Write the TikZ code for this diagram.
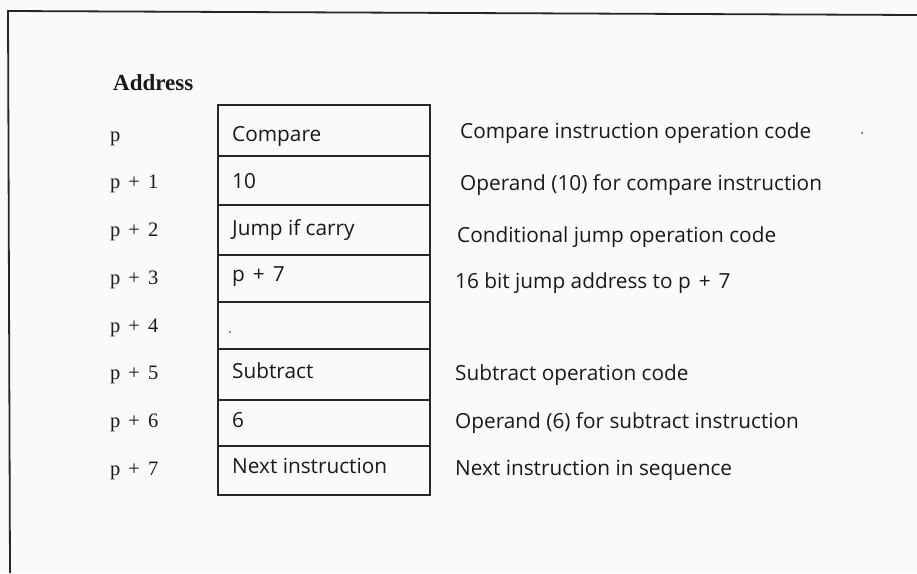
\documentclass[tikz,border=0pt]{standalone}
\usepackage{fontspec}
\setmainfont{Liberation Serif}
\newfontfamily\optfont{Open Sans}
\newcommand{\gp}{\hspace{8pt}}
\begin{document}
\begin{tikzpicture}[x=1pt,y=-1pt,
  cell/.style={draw=black!85, line width=1.3pt, anchor=north west, minimum width=212pt, inner sep=0pt, outer sep=0pt},
  addr/.style={anchor=base west, inner sep=0pt, text=black!90, font=\fontsize{20.5}{24}\selectfont},
  cont/.style={anchor=base west, inner sep=0pt, text=black!90, font=\optfont\fontsize{20.8}{24}\selectfont},
  head/.style={anchor=base west, inner sep=0pt, text=black!90, font=\bfseries\fontsize{23}{27}\selectfont},
  frame/.style={draw=black!85, line width=1.8pt}]
\fill[white!98!black] (0,0) rectangle (917,573);
\useasboundingbox (0,0) rectangle (917,573);
% frame
\coordinate (tl) at (8,11);
\coordinate (tr) at (917,15);
\coordinate (bl) at (10,573);
\draw[frame] (tr) -- (tl) -- (bl);
% heading
\node[head] (hd) at (113,90.5) {Address};
% cells
\foreach \t/\b [count=\i] in {105/156,156/205,205/255,255/302,302/349,349/400,400/446,446/495}{
  \pgfmathsetmacro{\h}{\b-\t}
  \node[cell, minimum height=\h pt] (c\i) at (218,\t) {};
}
% addresses
\node[addr] (a1) at (110,141) {p};
\foreach \y/\s [count=\i from 2] in {188/1,236/2,284/3,332/4,379/5,427/6,475/7}{
  \node[addr] (a\i) at (110,\y) {p\gp+\gp\s};
}
% cell contents
\node[cont] (v1) at (232,141) {Compare};
\node[cont] (v2) at (232,188) {10};
\node[cont] (v3) at (232,235) {Jump if carry};
\node[cont] (v4) at (232,281) {p\gp+\gp7};
\node[cont] (v6) at (232,378) {Subtract};
\node[cont] (v7) at (232,427) {6};
\node[cont] (v8) at (232,473) {Next instruction};
% comments
\node[cont] (k1) at (460,138) {Compare instruction operation code};
\node[cont] (k2) at (460,190) {Operand (10) for compare instruction};
\node[cont] (k3) at (457,242) {Conditional jump operation code};
\node[cont] (k4) at (455,288) {16 bit jump address to p\gp+\gp7};
\node[cont] (k6) at (455,380) {Subtract operation code};
\node[cont] (k7) at (455,428) {Operand (6) for subtract instruction};
\node[cont] (k8) at (455,475) {Next instruction in sequence};
% specks
\fill[black!80] (230,332) circle (0.9);
\fill[black!80] (862,133) circle (1);
\end{tikzpicture}
\end{document}
